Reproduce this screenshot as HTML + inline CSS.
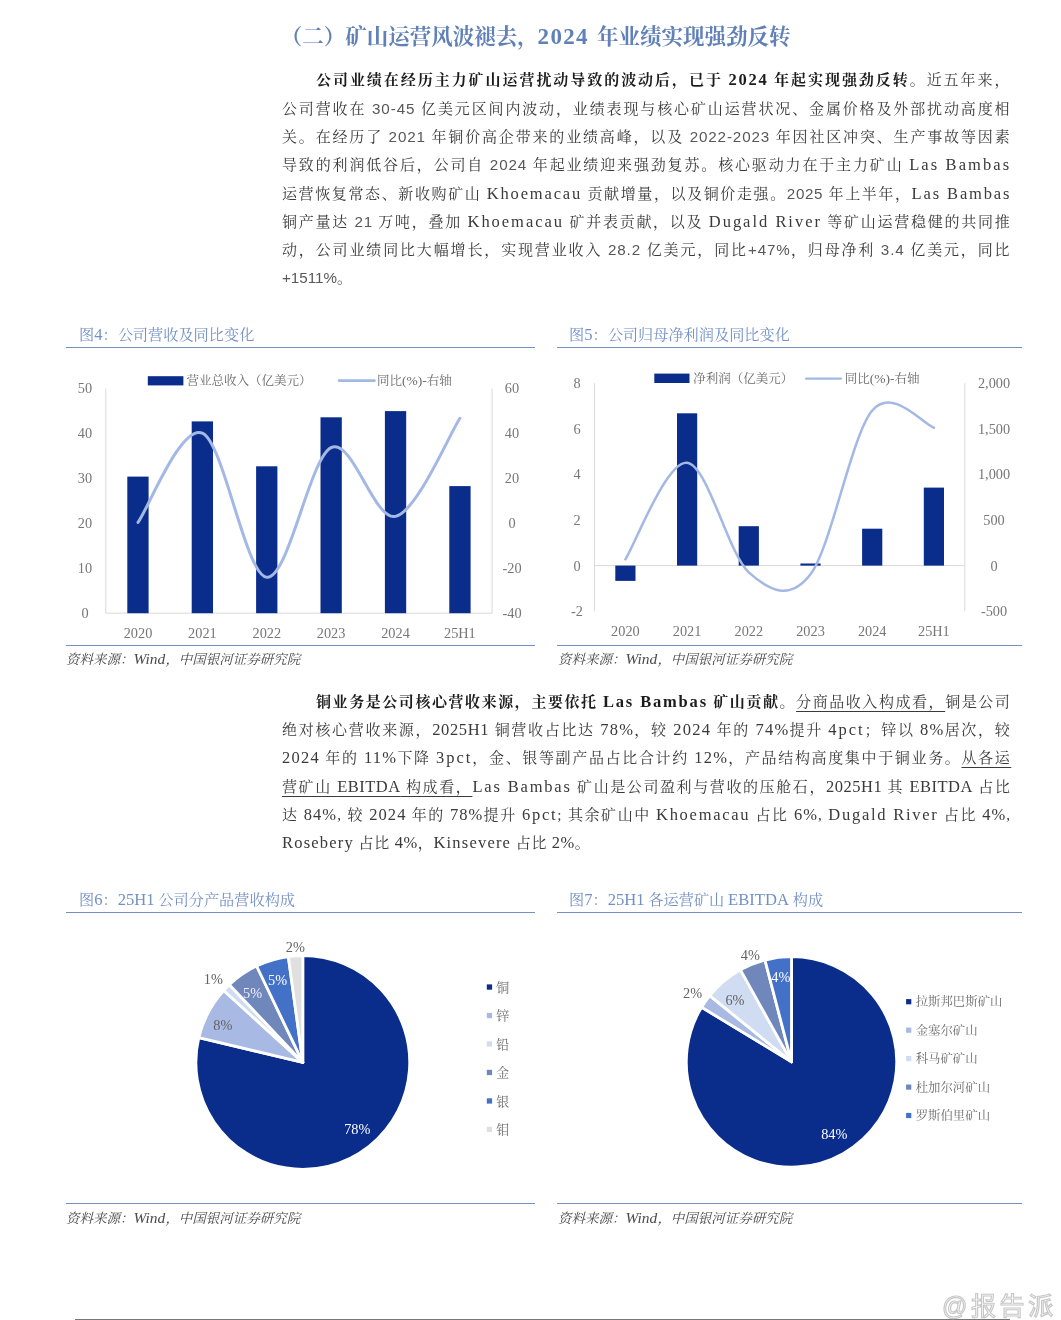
<!DOCTYPE html>
<html lang="zh-CN"><head><meta charset="utf-8"><title>报告</title>
<style>
html,body{margin:0;padding:0;background:#fff;}
body{width:1061px;height:1320px;position:relative;overflow:hidden;font-family:"Liberation Serif","Noto Serif CJK SC",serif;}
.abs{position:absolute;}
.h2{position:absolute;left:280.8px;top:21px;height:32px;line-height:32px;font-size:21.5px;font-weight:700;color:#6080b8;white-space:nowrap;}
.h2 span{font-size:23px;letter-spacing:1px;margin:0 2.8px 0 -6.6px;letter-spacing:1.3px;}
.ln{position:absolute;left:282px;width:729.3px;height:28px;line-height:28px;font-size:15px;color:#3a3a3a;text-align:justify;text-align-last:justify;letter-spacing:calc(1.1px + var(--d,0px));font-weight:400;}
.ln.first{left:316px;width:695.3px;}
.ln.last{text-align:left;text-align-last:left;--d:-.3px;}
.ln b{font-weight:700;color:#1c1c1c;}
.ln u{text-decoration:underline;text-decoration-thickness:1px;text-underline-offset:4px;}
.en{font-size:16.5px;letter-spacing:calc(1.5px + var(--d,0px));}
.ds{font-family:"Liberation Sans","Noto Serif CJK SC",sans-serif;font-size:15.2px;letter-spacing:calc(.3px + var(--d,0px));color:#585858;}
.ln b .ds{color:#1c1c1c;font-family:"Liberation Serif","Noto Serif CJK SC",serif;font-size:16.5px;letter-spacing:calc(1px + var(--d,0px));}
.dg{font-size:16.5px;letter-spacing:calc(.8px + var(--d,0px));}
.up{font-size:16.5px;letter-spacing:calc(.2px + var(--d,0px));}
.ft{position:absolute;height:20px;line-height:20px;font-size:15.2px;color:#7390c6;white-space:nowrap;}
.ft span{font-size:16.6px;}
.rule{position:absolute;height:0;border-top:1.7px solid #7690c6;}
.rule.b{border-top-width:1.5px;}
.src{position:absolute;height:18px;line-height:18px;font-size:13.5px;font-style:italic;color:#4a4a4a;white-space:nowrap;}
.src span{font-size:15.5px;}
svg{position:absolute;left:0;top:0;}
svg text{font-family:"Liberation Serif","Noto Serif CJK SC",serif;}
.wm{position:absolute;left:942px;top:1289.2px;height:34px;line-height:34px;font-size:25px;letter-spacing:3.6px;font-weight:400;color:#fff;-webkit-text-stroke:1.15px #c7c7c7;font-family:"Liberation Sans","Noto Sans CJK SC",sans-serif;white-space:nowrap;}
.foot{position:absolute;left:75px;width:935px;top:1318.8px;height:2px;background:#777;}
</style></head><body>

<div class="h2">（二）矿山运营风波褪去， <span>2024</span> 年业绩实现强劲反转</div>
<div class="ln first" style="top:66.4px;--d:0.70px"><b>公司业绩在经历主力矿山运营扰动导致的波动后，已于 <span class="ds">2024</span> 年起实现强劲反转</b>。近五年来，</div>
<div class="ln " style="top:94.7px;--d:0.62px">公司营收在 <span class="ds">30-45</span> 亿美元区间内波动，业绩表现与核心矿山运营状况、金属价格及外部扰动高度相</div>
<div class="ln " style="top:122.9px;--d:0.58px">关。在经历了 <span class="ds">2021</span> 年铜价高企带来的业绩高峰，以及 <span class="ds">2022-2023</span> 年因社区冲突、生产事故等因素</div>
<div class="ln " style="top:151.2px;--d:0.59px">导致的利润低谷后，公司自 <span class="ds">2024</span> 年起业绩迎来强劲复苏。核心驱动力在于主力矿山 <span class="en">Las Bambas</span></div>
<div class="ln " style="top:179.5px;--d:0.34px">运营恢复常态、新收购矿山 <span class="en">Khoemacau</span> 贡献增量，以及铜价走强。<span class="ds">2025</span> 年上半年，<span class="en">Las Bambas</span></div>
<div class="ln " style="top:207.8px;--d:0.46px">铜产量达 <span class="ds">21</span> 万吨，叠加 <span class="en">Khoemacau</span> 矿并表贡献，以及 <span class="en">Dugald River</span> 等矿山运营稳健的共同推</div>
<div class="ln " style="top:236.0px;--d:0.61px">动，公司业绩同比大幅增长，实现营业收入 <span class="ds">28.2</span> 亿美元，同比<span class="ds">+47%</span>，归母净利 <span class="ds">3.4</span> 亿美元，同比</div>
<div class="ln last" style="top:264.3px"><span class="ds">+1511%</span>。</div>
<div class="ln first" style="top:688.0px;--d:0.31px"><b>铜业务是公司核心营收来源，主要依托 <span class="en">Las Bambas</span> 矿山贡献</b>。<u>分商品收入构成看，</u>铜是公司</div>
<div class="ln " style="top:716.2px;--d:0.44px">绝对核心营收来源，<span class="up">2025H1</span> 铜营收占比达 <span class="dg">78%</span>，较 <span class="dg">2024</span> 年的 <span class="dg">74%</span>提升 <span class="en">4pct</span>；锌以 <span class="dg">8%</span>居次，较</div>
<div class="ln " style="top:744.4px;--d:0.41px"><span class="dg">2024</span> 年的 <span class="dg">11%</span>下降 <span class="en">3pct</span>，金、银等副产品占比合计约 <span class="dg">12%</span>，产品结构高度集中于铜业务。<u>从各运</u></div>
<div class="ln " style="top:772.6px;--d:0.30px"><u>营矿山 <span class="up">EBITDA</span> 构成看，</u><span class="en">Las Bambas</span> 矿山是公司盈利与营收的压舱石，<span class="up">2025H1</span> 其 <span class="up">EBITDA</span> 占比</div>
<div class="ln " style="top:800.8px;--d:0.22px">达 <span class="dg">84%</span>, 较 <span class="dg">2024</span> 年的 <span class="dg">78%</span>提升 <span class="en">6pct</span>; 其余矿山中 <span class="en">Khoemacau</span> 占比 <span class="dg">6%</span>, <span class="en">Dugald River</span> 占比 <span class="dg">4%</span>,</div>
<div class="ln last" style="top:829.0px"><span class="en">Rosebery</span> 占比 <span class="dg">4%</span>，<span class="en">Kinsevere</span> 占比 <span class="dg">2%</span>。</div>
<div class="ft" style="left:79px;top:325px">图<span>4</span>：公司营收及同比变化</div>
<div class="ft" style="left:569px;top:325px">图<span>5</span>：公司归母净利润及同比变化</div>
<div class="ft" style="left:79px;top:890px">图<span>6</span>：<span>25H1</span> 公司分产品营收构成</div>
<div class="ft" style="left:569px;top:890px">图<span>7</span>：<span>25H1</span> 各运营矿山 <span>EBITDA</span> 构成</div>
<div class="rule" style="left:66px;width:469px;top:346.8px"></div>
<div class="rule b" style="left:66px;width:469px;top:645.0px"></div>
<div class="rule" style="left:66px;width:469px;top:912.1px"></div>
<div class="rule b" style="left:66px;width:469px;top:1203.1px"></div>
<div class="rule" style="left:557px;width:465px;top:346.8px"></div>
<div class="rule b" style="left:557px;width:465px;top:645.0px"></div>
<div class="rule" style="left:557px;width:465px;top:912.1px"></div>
<div class="rule b" style="left:557px;width:465px;top:1203.1px"></div>
<div class="src" style="left:66px;top:650.4px">资料来源：<span>Wind</span>，中国银河证券研究院</div>
<div class="src" style="left:66px;top:1209.2px">资料来源：<span>Wind</span>，中国银河证券研究院</div>
<div class="src" style="left:558px;top:650.4px">资料来源：<span>Wind</span>，中国银河证券研究院</div>
<div class="src" style="left:558px;top:1209.2px">资料来源：<span>Wind</span>，中国银河证券研究院</div>
<svg width="1061" height="1320" viewBox="0 0 1061 1320">
<g>
<line x1="105.8" y1="388.6" x2="105.8" y2="613.2" stroke="#D9D9D9" stroke-width="1"/>
<line x1="492.1" y1="388.6" x2="492.1" y2="613.2" stroke="#D9D9D9" stroke-width="1"/>
<line x1="105.8" y1="613.2" x2="492.1" y2="613.2" stroke="#D9D9D9" stroke-width="1"/>
<rect x="127.3" y="476.6" width="21.3" height="136.6" fill="#0A2D8C"/>
<text x="138.0" y="638.4" font-size="14.3" fill="#777" text-anchor="middle" >2020</text>
<rect x="191.7" y="421.4" width="21.3" height="191.8" fill="#0A2D8C"/>
<text x="202.4" y="638.4" font-size="14.3" fill="#777" text-anchor="middle" >2021</text>
<rect x="256.1" y="466.3" width="21.3" height="146.9" fill="#0A2D8C"/>
<text x="266.8" y="638.4" font-size="14.3" fill="#777" text-anchor="middle" >2022</text>
<rect x="320.5" y="417.3" width="21.3" height="195.9" fill="#0A2D8C"/>
<text x="331.1" y="638.4" font-size="14.3" fill="#777" text-anchor="middle" >2023</text>
<rect x="384.9" y="411.1" width="21.3" height="202.1" fill="#0A2D8C"/>
<text x="395.5" y="638.4" font-size="14.3" fill="#777" text-anchor="middle" >2024</text>
<rect x="449.3" y="486.1" width="21.3" height="127.1" fill="#0A2D8C"/>
<text x="459.9" y="638.4" font-size="14.3" fill="#777" text-anchor="middle" >25H1</text>
<path d="M137.99,522.46 C148.72,507.56 180.91,423.94 202.38,433.07 C223.84,442.20 245.30,574.83 266.76,577.26 C288.22,579.70 309.68,457.81 331.14,447.67 C352.60,437.53 374.06,521.30 395.53,516.40 C416.99,511.49 449.18,434.61 459.91,418.25" fill="none" stroke="#A3B8E4" stroke-width="3" stroke-linecap="round" stroke-linejoin="round"/>
<text x="85.0" y="617.8" font-size="14.3" fill="#777" text-anchor="middle" >0</text>
<text x="512.0" y="617.8" font-size="14.3" fill="#777" text-anchor="middle" >-40</text>
<text x="85.0" y="572.9" font-size="14.3" fill="#777" text-anchor="middle" >10</text>
<text x="512.0" y="572.9" font-size="14.3" fill="#777" text-anchor="middle" >-20</text>
<text x="85.0" y="528.0" font-size="14.3" fill="#777" text-anchor="middle" >20</text>
<text x="512.0" y="528.0" font-size="14.3" fill="#777" text-anchor="middle" >0</text>
<text x="85.0" y="483.1" font-size="14.3" fill="#777" text-anchor="middle" >30</text>
<text x="512.0" y="483.1" font-size="14.3" fill="#777" text-anchor="middle" >20</text>
<text x="85.0" y="438.2" font-size="14.3" fill="#777" text-anchor="middle" >40</text>
<text x="512.0" y="438.2" font-size="14.3" fill="#777" text-anchor="middle" >40</text>
<text x="85.0" y="393.2" font-size="14.3" fill="#777" text-anchor="middle" >50</text>
<text x="512.0" y="393.2" font-size="14.3" fill="#777" text-anchor="middle" >60</text>
<rect x="147.8" y="376.2" width="35.6" height="9.2" fill="#0A2D8C"/>
<text x="186.5" y="385.3" font-size="12.5" fill="#6b6b6b" text-anchor="start" >营业总收入（亿美元）</text>
<line x1="339" y1="380.6" x2="374.5" y2="380.6" stroke="#A3B8E4" stroke-width="2.6" stroke-linecap="round"/>
<text x="377.0" y="385.3" font-size="12.5" fill="#6b6b6b" text-anchor="start" >同比<tspan font-size="13.5">(%)-</tspan>右轴</text>
</g>
<g>
<line x1="594.5" y1="383.2" x2="594.5" y2="611.2" stroke="#D9D9D9" stroke-width="1"/>
<line x1="964.8" y1="383.2" x2="964.8" y2="611.2" stroke="#D9D9D9" stroke-width="1"/>
<line x1="594.5" y1="565.6" x2="964.8" y2="565.6" stroke="#D9D9D9" stroke-width="1"/>
<rect x="615.3" y="565.6" width="20.2" height="15.3" fill="#0A2D8C"/>
<text x="625.4" y="635.8" font-size="14.3" fill="#777" text-anchor="middle" >2020</text>
<rect x="677.0" y="413.3" width="20.2" height="152.3" fill="#0A2D8C"/>
<text x="687.1" y="635.8" font-size="14.3" fill="#777" text-anchor="middle" >2021</text>
<rect x="738.7" y="526.2" width="20.2" height="39.4" fill="#0A2D8C"/>
<text x="748.8" y="635.8" font-size="14.3" fill="#777" text-anchor="middle" >2022</text>
<rect x="800.4" y="563.5" width="20.2" height="2.1" fill="#0A2D8C"/>
<text x="810.5" y="635.8" font-size="14.3" fill="#777" text-anchor="middle" >2023</text>
<rect x="862.1" y="528.7" width="20.2" height="36.9" fill="#0A2D8C"/>
<text x="872.2" y="635.8" font-size="14.3" fill="#777" text-anchor="middle" >2024</text>
<rect x="923.8" y="487.6" width="20.2" height="78.0" fill="#0A2D8C"/>
<text x="933.9" y="635.8" font-size="14.3" fill="#777" text-anchor="middle" >25H1</text>
<path d="M625.36,559.31 C635.64,543.21 666.50,460.55 687.08,462.73 C707.65,464.90 728.22,553.76 748.79,572.35 C769.36,590.94 789.94,601.23 810.51,574.26 C831.08,547.30 851.65,434.97 872.22,410.56 C892.80,386.15 923.66,424.92 933.94,427.80" fill="none" stroke="#A3B8E4" stroke-width="2.5" stroke-linecap="round" stroke-linejoin="round"/>
<text x="577.0" y="616.1" font-size="14.3" fill="#777" text-anchor="middle" >-2</text>
<text x="994.0" y="616.1" font-size="14.3" fill="#777" text-anchor="middle" >-500</text>
<text x="577.0" y="570.5" font-size="14.3" fill="#777" text-anchor="middle" >0</text>
<text x="994.0" y="570.5" font-size="14.3" fill="#777" text-anchor="middle" >0</text>
<text x="577.0" y="524.9" font-size="14.3" fill="#777" text-anchor="middle" >2</text>
<text x="994.0" y="524.9" font-size="14.3" fill="#777" text-anchor="middle" >500</text>
<text x="577.0" y="479.3" font-size="14.3" fill="#777" text-anchor="middle" >4</text>
<text x="994.0" y="479.3" font-size="14.3" fill="#777" text-anchor="middle" >1,000</text>
<text x="577.0" y="433.7" font-size="14.3" fill="#777" text-anchor="middle" >6</text>
<text x="994.0" y="433.7" font-size="14.3" fill="#777" text-anchor="middle" >1,500</text>
<text x="577.0" y="388.1" font-size="14.3" fill="#777" text-anchor="middle" >8</text>
<text x="994.0" y="388.1" font-size="14.3" fill="#777" text-anchor="middle" >2,000</text>
<rect x="654.3" y="373.6" width="35.2" height="9.4" fill="#0A2D8C"/>
<text x="693.3" y="383.3" font-size="12.5" fill="#6b6b6b" text-anchor="start" >净利润（亿美元）</text>
<line x1="806" y1="378.6" x2="841" y2="378.6" stroke="#A3B8E4" stroke-width="2.2" stroke-linecap="round"/>
<text x="844.7" y="383.3" font-size="12.5" fill="#6b6b6b" text-anchor="start" >同比<tspan font-size="13.5">(%)-</tspan>右轴</text>
</g>
<g stroke="#fff" stroke-width="2.8" stroke-linejoin="round">
<path d="M302.80,1062.40 L302.80,955.50 A106.90,106.90 0 1 1 198.81,1037.63 Z" fill="#0A2D8C"/>
<path d="M302.80,1062.40 L198.81,1037.63 A106.90,106.90 0 0 1 223.73,990.45 Z" fill="#A8BAE4"/>
<path d="M302.80,1062.40 L223.73,990.45 A106.90,106.90 0 0 1 229.35,984.73 Z" fill="#D0DCF1"/>
<path d="M302.80,1062.40 L229.35,984.73 A106.90,106.90 0 0 1 256.61,965.99 Z" fill="#7087BC"/>
<path d="M302.80,1062.40 L256.61,965.99 A106.90,106.90 0 0 1 288.29,956.49 Z" fill="#4471C8"/>
<path d="M302.80,1062.40 L288.29,956.49 A106.90,106.90 0 0 1 302.80,955.50 Z" fill="#E0E0E0"/>
</g>
<text x="295.4" y="952.2" font-size="14.3" fill="#636363" text-anchor="middle" >2%</text>
<text x="213.4" y="983.5" font-size="14.3" fill="#636363" text-anchor="middle" >1%</text>
<text x="277.6" y="984.5" font-size="14.3" fill="#fff" text-anchor="middle" >5%</text>
<text x="252.6" y="998.0" font-size="14.3" fill="#eef" text-anchor="middle" >5%</text>
<text x="222.8" y="1030.3" font-size="14.3" fill="#636363" text-anchor="middle" >8%</text>
<text x="357.3" y="1134.3" font-size="14.3" fill="#fff" text-anchor="middle" >78%</text>
<rect x="486.8" y="984.4" width="5.3" height="5.3" fill="#0A2D8C"/>
<text x="496.2" y="991.8" font-size="13" fill="#6b6b6b" text-anchor="start" >铜</text>
<rect x="486.8" y="1012.9" width="5.3" height="5.3" fill="#A8BAE4"/>
<text x="496.2" y="1020.3" font-size="13" fill="#6b6b6b" text-anchor="start" >锌</text>
<rect x="486.8" y="1041.3" width="5.3" height="5.3" fill="#D0DCF1"/>
<text x="496.2" y="1048.8" font-size="13" fill="#6b6b6b" text-anchor="start" >铅</text>
<rect x="486.8" y="1069.8" width="5.3" height="5.3" fill="#7087BC"/>
<text x="496.2" y="1077.3" font-size="13" fill="#6b6b6b" text-anchor="start" >金</text>
<rect x="486.8" y="1098.3" width="5.3" height="5.3" fill="#4471C8"/>
<text x="496.2" y="1105.8" font-size="13" fill="#6b6b6b" text-anchor="start" >银</text>
<rect x="486.8" y="1126.8" width="5.3" height="5.3" fill="#E0E0E0"/>
<text x="496.2" y="1134.3" font-size="13" fill="#6b6b6b" text-anchor="start" >钼</text>
<g stroke="#fff" stroke-width="2.8" stroke-linejoin="round">
<path d="M791.50,1061.90 L791.50,956.70 A105.20,105.20 0 1 1 701.61,1007.25 Z" fill="#0A2D8C"/>
<path d="M791.50,1061.90 L701.61,1007.25 A105.20,105.20 0 0 1 709.74,995.70 Z" fill="#A8BAE4"/>
<path d="M791.50,1061.90 L709.74,995.70 A105.20,105.20 0 0 1 740.50,969.89 Z" fill="#D0DCF1"/>
<path d="M791.50,1061.90 L740.50,969.89 A105.20,105.20 0 0 1 764.98,960.10 Z" fill="#7087BC"/>
<path d="M791.50,1061.90 L764.98,960.10 A105.20,105.20 0 0 1 791.50,956.70 Z" fill="#4471C8"/>
</g>
<text x="750.3" y="960.2" font-size="14.3" fill="#636363" text-anchor="middle" >4%</text>
<text x="780.9" y="982.4" font-size="14.3" fill="#fff" text-anchor="middle" >4%</text>
<text x="692.6" y="998.4" font-size="14.3" fill="#636363" text-anchor="middle" >2%</text>
<text x="735.0" y="1005.3" font-size="14.3" fill="#636363" text-anchor="middle" >6%</text>
<text x="834.3" y="1138.6" font-size="14.3" fill="#fff" text-anchor="middle" >84%</text>
<rect x="906.1" y="999.1" width="5.2" height="5.2" fill="#0A2D8C"/>
<text x="915.7" y="1006.3" font-size="12.4" fill="#6b6b6b" text-anchor="start" >拉斯邦巴斯矿山</text>
<rect x="906.1" y="1027.6" width="5.2" height="5.2" fill="#A8BAE4"/>
<text x="915.7" y="1034.7" font-size="12.4" fill="#6b6b6b" text-anchor="start" >金塞尔矿山</text>
<rect x="906.1" y="1056.0" width="5.2" height="5.2" fill="#D0DCF1"/>
<text x="915.7" y="1063.2" font-size="12.4" fill="#6b6b6b" text-anchor="start" >科马矿矿山</text>
<rect x="906.1" y="1084.5" width="5.2" height="5.2" fill="#7087BC"/>
<text x="915.7" y="1091.6" font-size="12.4" fill="#6b6b6b" text-anchor="start" >杜加尔河矿山</text>
<rect x="906.1" y="1112.9" width="5.2" height="5.2" fill="#4471C8"/>
<text x="915.7" y="1120.1" font-size="12.4" fill="#6b6b6b" text-anchor="start" >罗斯伯里矿山</text>
</svg>
<div class="foot"></div>
<div class="wm">@报告派</div>
</body></html>
